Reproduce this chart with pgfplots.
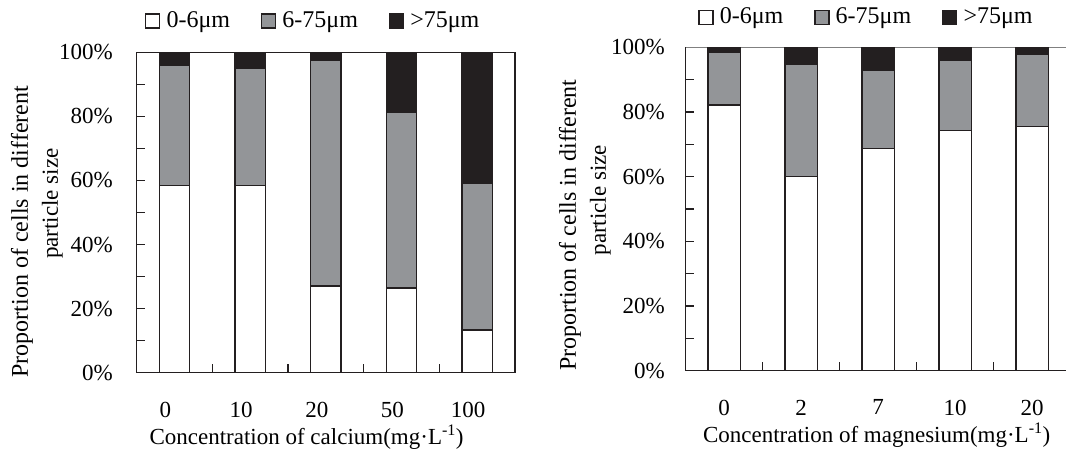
\documentclass[border=0pt]{standalone}
\usepackage{fontspec}
\setmainfont{Liberation Serif}
\usepackage{pgfplots}
\pgfplotsset{compat=1.18}
\definecolor{bgray}{RGB}{147,149,152}
\definecolor{bblack}{RGB}{35,31,32}
\pgfplotsset{
  mystyle/.style={
    scale only axis,
    ybar stacked,
    ymin=0, ymax=100,
    xmin=-0.5, xmax=4.5,
    xtick={-0.5,0.5,1.5,2.5,3.5,4.5},
    ytick={0,20,...,100},
    minor ytick={0,10,...,100},
    tick pos=left,
    tick align=inside,
    major tick length=8.5pt,
    minor tick length=8.5pt,
    tick style={line width=1.5pt, color=bblack},
    minor tick style={line width=1.5pt, color=bblack},
    axis line style={line width=1.5pt, draw=bblack},
    /pgf/number format/assume math mode=true,
    yticklabel={\pgfmathprintnumber{\tick}\%},
    yticklabel style={inner sep=0pt, anchor=east},
    xticklabel style={inner sep=0pt, anchor=north, yshift=-29pt},
    every axis plot/.append style={line width=1.5pt, draw=bblack},
    legend image code/.code={\draw[#1,line width=1.2pt] (0pt,-7pt) rectangle (14pt,7pt); \path (20pt,0pt);},
    legend style={draw=none, fill=none, legend columns=3, anchor=west, inner sep=0pt,
      font=\fontsize{24}{28}\selectfont,
      nodes={inner xsep=0pt, inner ysep=0pt},
      /tikz/every even column/.append style={column sep=31pt}},
    ylabel style={anchor=center, align=center, inner sep=0pt},
    xlabel style={anchor=north, inner sep=0pt},
  }
}
\begin{document}
\fontsize{23}{30}\selectfont
\begin{tikzpicture}
% ---------- left: calcium ----------
\begin{axis}[mystyle,
  at={(136.7pt,83.3pt)}, anchor=south west,
  width=378.3pt, height=320.4pt,
  bar width=0.4,
  % category names, each set under the middle of its category
  xticklabels={0,10,20,50,100,{}},
  xticklabel style={xshift=28.8pt},
  yticklabel style={xshift=-23.7pt},
  legend style={at={(axis description cs:0.0219,1.0977)}},
  xlabel={Concentration of calcium(mg·L\textsuperscript{-1})},
  xlabel style={at={(axis description cs:0.449,0)}, yshift=-52pt},
  ylabel={\fontsize{24}{30}\selectfont Proportion of cells in different\\ \hspace*{56pt}particle size},
  ylabel style={at={(axis description cs:-0.2636,0.44)}},
]
\addplot[fill=white] coordinates {(0,58.4) (1,58.4) (2,27.0) (3,26.4) (4,13.4)};
\addplot[fill=bgray] coordinates {(0,37.7) (1,36.5) (2,70.4) (3,55.0) (4,45.8)};
\addplot[fill=bblack] coordinates {(0,3.9) (1,5.1) (2,2.6) (3,18.6) (4,40.8)};
\legend{0-6μm,6-75μm,>75μm}
\end{axis}
% ---------- right: magnesium ----------
\begin{axis}[mystyle,
  at={(685.7pt,85.3pt)}, anchor=south west,
  width=385pt, height=323.4pt,
  bar width=0.42,
  axis line style={line width=1pt, draw=gray},
  after end axis/.code={\draw[bblack, line width=1.5pt]
      (rel axis cs:0,1) -- (rel axis cs:0,0) -- (rel axis cs:1,0);},
  xticklabels={0,2,7,10,20,{}},
  xticklabel style={xshift=38.5pt},
  yticklabel style={xshift=-20.7pt},
  legend style={at={(axis description cs:0.0327,1.092)}},
  xlabel={Concentration of magnesium(mg·L\textsuperscript{-1})},
  xlabel style={at={(axis description cs:0.496,0)}, yshift=-52pt},
  ylabel={\fontsize{24}{30}\selectfont Proportion of cells in different\\ \hspace*{50pt}particle size},
  ylabel style={at={(axis description cs:-0.2616,0.45)}},
]
\addplot[fill=white] coordinates {(0,82.1) (1,60.0) (2,68.7) (3,74.3) (4,75.5)};
\addplot[fill=bgray] coordinates {(0,16.4) (1,34.8) (2,24.2) (3,21.7) (4,22.2)};
\addplot[fill=bblack] coordinates {(0,1.5) (1,5.2) (2,7.1) (3,4.0) (4,2.3)};
\legend{0-6μm,6-75μm,>75μm}
\end{axis}
\pgfresetboundingbox
\path[use as bounding box] (0,0) rectangle (1066pt,456pt);
\end{tikzpicture}
\end{document}
